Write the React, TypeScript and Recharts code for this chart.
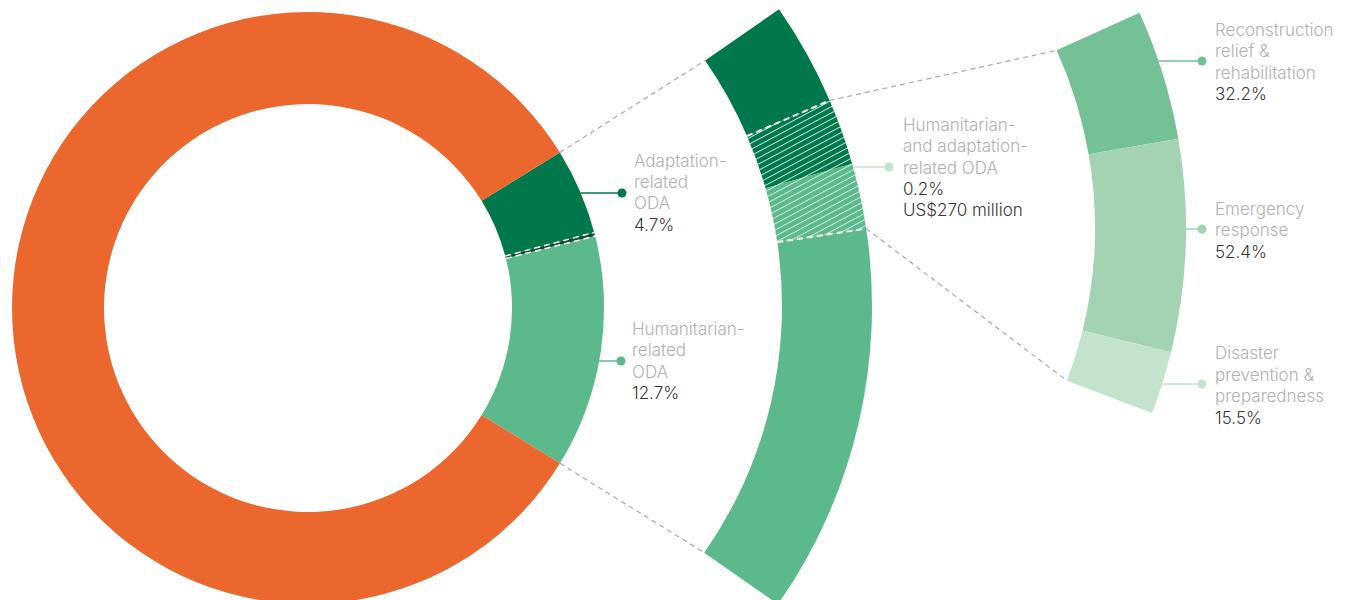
import React from 'react'
import { PieChart, Pie, Cell } from 'recharts'

// main donut: share of total ODA
const mainCategories = [
  'Adaptation-related ODA',
  'Humanitarian- and adaptation-related ODA',
  'Humanitarian-related ODA',
  'Other ODA',
]
const mainShares = [4.7, 0.2, 12.7, 82.4]

// magnified arc of the climate / humanitarian part (drawn shares, overlap enlarged)
const zoomCategories = [
  'Adaptation-related only',
  'Overlap, adaptation side',
  'Overlap, humanitarian side',
  'Humanitarian-related only',
]
const zoomShares = [16.5, 10.6, 10.5, 62.4]

// breakdown of the humanitarian- and adaptation-related ODA
const subCategories = [
  'Reconstruction relief & rehabilitation',
  'Emergency response',
  'Disaster prevention & preparedness',
]
const subShares = [32.2, 52.4, 15.5]

// label texts
const mainLabelNames = [['Adaptation-', 'related', 'ODA'], ['Humanitarian-', 'related', 'ODA']]
const mainLabelValues = [['4.7%'], ['12.7%']]
const overlapLabelName = ['Humanitarian-', 'and adaptation-', 'related ODA']
const overlapLabelValue = ['0.2%', 'US$270 million']
const subLabelNames = [['Reconstruction', 'relief &', 'rehabilitation'], ['Emergency', 'response'], ['Disaster', 'prevention &', 'preparedness']]
const subLabelValues = [['32.2%'], ['52.4%'], ['15.5%']]

const ORANGE = '#ec672d'
const DARK = '#00784c'
const MID = '#5cb98c'
const STRIPE = '#0c4b33'
const SUB_COLORS = ['#75c196', '#a3d3b2', '#c4e3cd']
const NAME_COLOR = '#b3afb2'
const VALUE_COLOR = '#3b3639'
const FONT = 'Inter, Lato, sans-serif'

const W = 1350
const H = 600

const MAIN = { cx: 308, cy: 308, inner: 204, outer: 296, start: 31.7 }
const ZOOM = { cx: 352, cy: 306, inner: 430, outer: 520, start: 34.8, end: -35 }
const SUB = { cx: 665, cy: 228, inner: 430, outer: 521, start: 24.4, end: -20.8 }

const RAD = Math.PI / 180
const polar = (cx: number, cy: number, r: number, deg: number) => ({
  x: cx + r * Math.cos(deg * RAD),
  y: cy - r * Math.sin(deg * RAD),
})

// slice boundary angles, same rule recharts uses
function boundaries(values: number[], start: number, end: number) {
  const total = values.reduce((a, b) => a + b, 0)
  const out = [start]
  let a = start
  values.forEach((v) => {
    a += ((end - start) * v) / total
    out.push(a)
  })
  return out
}

const toData = (names: string[], values: number[]) => names.map((name, i) => ({ name, value: values[i] }))
const mainData = toData(mainCategories, mainShares)
const zoomData = toData(zoomCategories, zoomShares)
const subData = toData(subCategories, subShares)

const mainB = boundaries(mainShares, MAIN.start, MAIN.start - 360)
const zoomB = boundaries(zoomShares, ZOOM.start, ZOOM.end)
const subB = boundaries(subShares, SUB.start, SUB.end)

// x on a ring's outer edge at a given height
const edgeX = (ring: { cx: number; cy: number; outer: number }, y: number) =>
  ring.cx + Math.sqrt(ring.outer * ring.outer - (y - ring.cy) * (y - ring.cy))

type LabelProps = {
  ring: { cx: number; cy: number; outer: number }
  dotX: number
  dotY: number
  textX: number
  firstBaseline: number
  names: string[]
  values: string[]
  color: string
}

function Label({ ring, dotX, dotY, textX, firstBaseline, names, values, color }: LabelProps) {
  const lines = [...names.map((t) => ({ t, c: NAME_COLOR })), ...values.map((t) => ({ t, c: VALUE_COLOR }))]
  return (
    <g>
      <line x1={edgeX(ring, dotY)} y1={dotY} x2={dotX} y2={dotY} stroke={color} strokeWidth={1.5} />
      <circle cx={dotX} cy={dotY} r={4.5} fill={color} />
      <text x={textX} y={firstBaseline} fontFamily={FONT} fontSize={17} fontWeight={300}>
        {lines.map((l, i) => (
          <tspan key={i} x={textX} dy={i === 0 ? 0 : 21.4} fill={l.c}>
            {l.t}
          </tspan>
        ))}
      </text>
    </g>
  )
}

function RadialDash({ cx, cy, r1, r2, angle, width }: { cx: number; cy: number; r1: number; r2: number; angle: number; width: number }) {
  const a = polar(cx, cy, r1, angle)
  const b = polar(cx, cy, r2, angle)
  return <line x1={a.x} y1={a.y} x2={b.x} y2={b.y} stroke="#fff" strokeWidth={width} strokeDasharray="6 4" />
}

export default function App() {
  const mainColors = [DARK, STRIPE, MID, ORANGE]
  const zoomFills = [DARK, 'url(#hatchDark)', 'url(#hatchMid)', MID]

  const conTop1 = polar(MAIN.cx, MAIN.cy, MAIN.outer, mainB[0])
  const conTop2 = polar(ZOOM.cx, ZOOM.cy, ZOOM.inner, zoomB[0])
  const conBot1 = polar(MAIN.cx, MAIN.cy, MAIN.outer, mainB[3])
  const conBot2 = polar(ZOOM.cx, ZOOM.cy, ZOOM.inner, zoomB[4])
  const subTop1 = polar(ZOOM.cx, ZOOM.cy, ZOOM.outer, zoomB[1])
  const subTop2 = polar(SUB.cx, SUB.cy, SUB.inner, subB[0])
  const subBot1 = polar(ZOOM.cx, ZOOM.cy, ZOOM.outer, zoomB[3])
  const subBot2 = polar(SUB.cx, SUB.cy, SUB.inner, subB[3])

  return (
    <div style={{ position: 'absolute', left: 0, top: 0, width: W, height: H, overflow: 'hidden', background: '#fff' }}>
      <PieChart width={W} height={H} margin={{ top: 0, right: 0, bottom: 0, left: 0 }}>
        <defs>
          <pattern id="hatchDark" patternUnits="userSpaceOnUse" width={5.5} height={5.5} patternTransform="rotate(-28)">
            <rect width={5.5} height={5.5} fill={DARK} />
            <line x1={0} y1={0.5} x2={5.5} y2={0.5} stroke="#fff" strokeWidth={0.9} strokeOpacity={0.85} />
          </pattern>
          <pattern id="hatchMid" patternUnits="userSpaceOnUse" width={5.5} height={5.5} patternTransform="rotate(-28)">
            <rect width={5.5} height={5.5} fill={MID} />
            <line x1={0} y1={0.5} x2={5.5} y2={0.5} stroke="#fff" strokeWidth={0.9} strokeOpacity={0.75} />
          </pattern>
        </defs>
        <Pie
          data={mainData}
          dataKey="value"
          cx={MAIN.cx}
          cy={MAIN.cy}
          innerRadius={MAIN.inner}
          outerRadius={MAIN.outer}
          startAngle={MAIN.start}
          endAngle={MAIN.start - 360}
          stroke="none"
          isAnimationActive={false}
        >
          {mainData.map((_, i) => (
            <Cell key={i} fill={mainColors[i]} stroke="none" />
          ))}
        </Pie>
        <Pie
          data={zoomData}
          dataKey="value"
          cx={ZOOM.cx}
          cy={ZOOM.cy}
          innerRadius={ZOOM.inner}
          outerRadius={ZOOM.outer}
          startAngle={ZOOM.start}
          endAngle={ZOOM.end}
          stroke="none"
          isAnimationActive={false}
        >
          {zoomData.map((_, i) => (
            <Cell key={i} fill={zoomFills[i]} stroke="none" />
          ))}
        </Pie>
        <Pie
          data={subData}
          dataKey="value"
          cx={SUB.cx}
          cy={SUB.cy}
          innerRadius={SUB.inner}
          outerRadius={SUB.outer}
          startAngle={SUB.start}
          endAngle={SUB.end}
          stroke="none"
          isAnimationActive={false}
        >
          {subData.map((_, i) => (
            <Cell key={i} fill={SUB_COLORS[i]} stroke="none" />
          ))}
        </Pie>
      </PieChart>

      <svg width={W} height={H} style={{ position: 'absolute', left: 0, top: 0, pointerEvents: 'none' }}>
        {/* connectors */}
        <g stroke="#a9a9a9" strokeWidth={1.2} strokeDasharray="5 4" fill="none">
          <line x1={conTop1.x} y1={conTop1.y} x2={conTop2.x} y2={conTop2.y} />
          <line x1={conBot1.x} y1={conBot1.y} x2={conBot2.x} y2={conBot2.y} />
          <line x1={subTop1.x} y1={subTop1.y} x2={subTop2.x} y2={subTop2.y} />
          <line x1={subBot1.x} y1={subBot1.y} x2={subBot2.x} y2={subBot2.y} />
        </g>

        {/* overlap borders */}
        <RadialDash cx={MAIN.cx} cy={MAIN.cy} r1={MAIN.inner} r2={MAIN.outer} angle={mainB[1]} width={1.5} />
        <RadialDash cx={MAIN.cx} cy={MAIN.cy} r1={MAIN.inner} r2={MAIN.outer} angle={mainB[2]} width={1.5} />
        <RadialDash cx={ZOOM.cx} cy={ZOOM.cy} r1={ZOOM.inner} r2={ZOOM.outer} angle={zoomB[1]} width={2} />
        <RadialDash cx={ZOOM.cx} cy={ZOOM.cy} r1={ZOOM.inner} r2={ZOOM.outer} angle={zoomB[3]} width={2} />

        <Label ring={MAIN} dotX={622} dotY={193} textX={634} firstBaseline={166.5} names={mainLabelNames[0]} values={mainLabelValues[0]} color={DARK} />
        <Label ring={MAIN} dotX={621} dotY={361} textX={632} firstBaseline={335} names={mainLabelNames[1]} values={mainLabelValues[1]} color={MID} />
        <Label ring={ZOOM} dotX={889} dotY={167} textX={903} firstBaseline={130.7} names={overlapLabelName} values={overlapLabelValue} color={SUB_COLORS[2]} />
        <Label ring={SUB} dotX={1202} dotY={61} textX={1215} firstBaseline={36} names={subLabelNames[0]} values={subLabelValues[0]} color={SUB_COLORS[0]} />
        <Label ring={SUB} dotX={1202} dotY={229} textX={1215} firstBaseline={215} names={subLabelNames[1]} values={subLabelValues[1]} color={SUB_COLORS[1]} />
        <Label ring={SUB} dotX={1202} dotY={384} textX={1215} firstBaseline={359.3} names={subLabelNames[2]} values={subLabelValues[2]} color={SUB_COLORS[2]} />
      </svg>
    </div>
  )
}
